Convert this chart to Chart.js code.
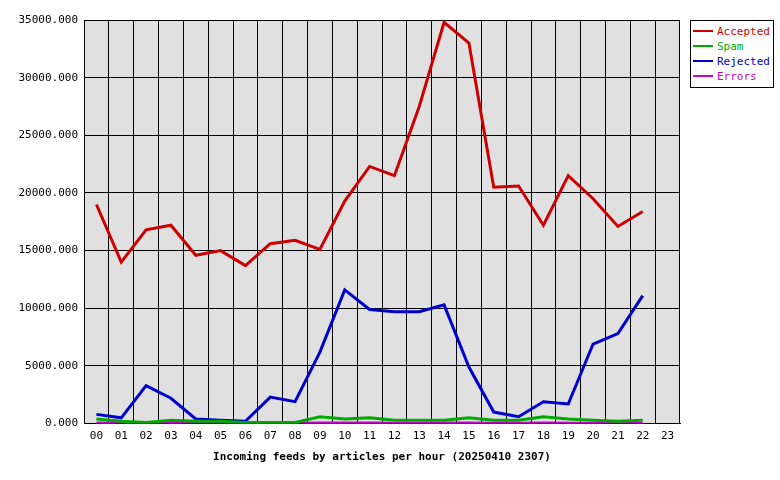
<!DOCTYPE html>
<html><head><meta charset="utf-8">
<script src="https://cdn.jsdelivr.net/npm/chart.js@4/dist/chart.umd.min.js"></script>
<style>
body{margin:0;background:#fff;width:780px;height:480px;overflow:hidden;font-family:"DejaVu Sans Mono",monospace}
#wrap{position:absolute;left:0;top:0;width:780px;height:480px}
#legend{position:absolute;left:690px;top:20px;width:80px;border:1px solid #000;background:#fff;font-size:11px;padding:3px 0 3px 2px;line-height:15px}
#legend div{white-space:nowrap}
#legend span{display:inline-block;width:20px;height:2px;vertical-align:middle;margin-right:4px;position:relative;top:-1px}
</style></head><body>
<div id="wrap"><canvas id="c" width="780" height="480"></canvas></div>
<div id="legend"></div>
<script>
const hours=["00","01","02","03","04","05","06","07","08","09","10","11","12","13","14","15","16","17","18","19","20","21","22","23"];
const accepted=[19000,14000,16800,17200,14600,15000,13700,15600,15900,15100,19300,22300,21500,27500,34800,33000,20500,20600,17200,21500,19500,17100,18400,null];
const spam=[400,200,100,300,200,200,100,100,100,600,400,500,300,300,300,500,300,300,600,400,300,200,300,null];
const rejected=[800,500,3300,2200,400,300,200,2300,1900,6200,11600,9900,9700,9700,10300,4900,1000,600,1900,1700,6900,7800,11100,null];
const errors=[60,50,40,50,40,40,40,50,40,60,50,50,40,40,50,50,40,40,50,40,40,40,40,null];
const series=[["Accepted",accepted,"#cc0000"],["Spam",spam,"#00aa00"],["Rejected",rejected,"#0000cc"],["Errors",errors,"#cc00cc"]];
document.getElementById('legend').innerHTML=series.map(s=>`<div style="color:${s[2]}"><span style="background:${s[2]}"></span>${s[0]}</div>`).join('');
const bg={id:'bg',beforeDraw(ch){const a=ch.chartArea,x=ch.ctx;x.save();x.fillStyle='#e0e0e0';x.fillRect(a.left,a.top,a.right-a.left,a.bottom-a.top);x.restore();}};
const F={family:"DejaVu Sans Mono",size:11};
new Chart(document.getElementById('c'),{type:'line',
data:{labels:hours,datasets:series.map(s=>({label:s[0],data:s[1],borderColor:s[2],backgroundColor:s[2],borderWidth:3,pointRadius:0,tension:0,order:s[0]=="Accepted"?0:1}))},
options:{responsive:false,animation:false,layout:{padding:{left:0,right:100,top:20,bottom:12}},
plugins:{legend:{display:false},tooltip:{enabled:false}},
scales:{x:{offset:true,grid:{color:'#000',offset:true,drawTicks:false},border:{color:'#000'},ticks:{color:'#000',font:F,padding:6},
title:{display:true,text:'Incoming feeds by articles per hour (20250410 2307)',color:'#000',font:{family:"DejaVu Sans Mono",size:11,weight:'bold'},padding:{top:2}}},
y:{min:0,max:35000,afterFit(s){s.width=84;},grid:{color:'#000',drawTicks:false},border:{color:'#000'},ticks:{stepSize:5000,color:'#000',font:F,padding:6,callback:v=>v.toFixed(3)}}}},
plugins:[bg]});
</script></body></html>
